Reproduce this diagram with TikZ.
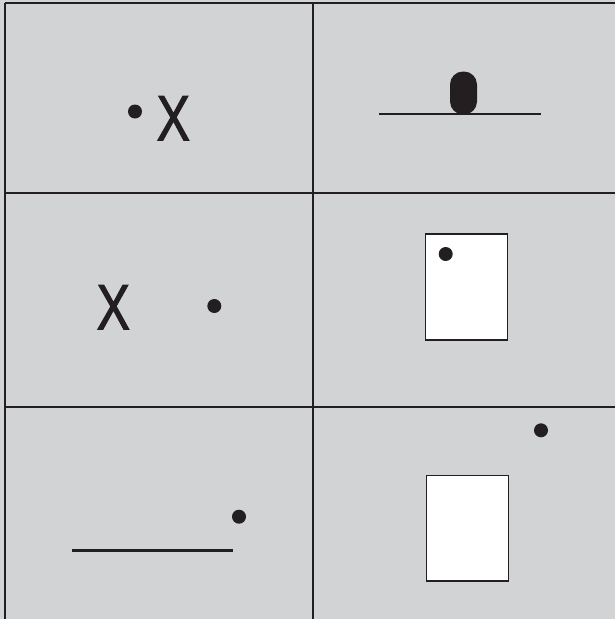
\documentclass[tikz,border=0pt]{standalone}
\usepackage{fontspec}
\setmainfont{Liberation Sans}
\newfontfamily\xfont[FakeBold=1.8]{Liberation Sans}
\definecolor{bg}{RGB}{210,211,213}
\definecolor{ink}{RGB}{35,31,32}
\begin{document}
\begin{tikzpicture}[x=1pt,y=-1pt,
  gridline/.style={draw=ink,line width=2pt},
  dotmark/.style={circle,fill=ink,inner sep=0pt,minimum size=14pt},
  xmark/.style={inner sep=0pt,text=ink,font=\xfont\fontsize{64}{64}\selectfont},
  paper/.style={draw=ink,fill=white,line width=1.3pt},
  bar/.style={draw=ink,line width=2.2pt}]
\fill[bg] (0,0) rectangle (615,619);
\useasboundingbox (0,0) rectangle (615,619);
% grid
\coordinate (tl) at (4.5,3);
\coordinate (tr) at (615,3);
\coordinate (bl) at (4.5,619);
\coordinate (vt) at (312.7,3);
\coordinate (vb) at (312.7,619);
\coordinate (h1l) at (4.5,193);
\coordinate (h1r) at (615,193);
\coordinate (h2l) at (4.5,407);
\coordinate (h2r) at (615,407);
\draw[gridline] (tl) -- (tr);
\draw[gridline] (tl) -- (bl);
\draw[gridline] (vt) -- (vb);
\draw[gridline] (h1l) -- (h1r);
\draw[gridline] (h2l) -- (h2r);
% cell 1
\node[dotmark] (d1) at (135,111.5) {};
\node[xmark] (x1) at (173.3,118.3) {\scalebox{0.78}[1]{X}};
% cell 2
\coordinate (l2a) at (379,114);
\coordinate (l2b) at (541,114);
\draw[bar] (l2a) -- (l2b);
\node[fill=ink,rounded corners=13pt,minimum width=27pt,minimum height=43pt,inner sep=0pt] (cap) at (463.5,93) {};
% cell 3
\node[xmark] (x3) at (113.3,307.3) {\scalebox{0.78}[1]{X}};
\node[dotmark] (d3) at (214.3,306) {};
% cell 4
\node[paper,minimum width=82pt,minimum height=106pt,inner sep=0pt] (p4) at (466.7,287) {};
\node[dotmark] (d4) at (445.7,254) {};
% cell 5
\coordinate (l5a) at (71.7,550.5);
\coordinate (l5b) at (232.7,550.5);
\draw[bar] (l5a) -- (l5b);
\node[dotmark] (d5) at (239,516.7) {};
% cell 6
\node[dotmark] (d6) at (541,430.3) {};
\node[paper,minimum width=81.6pt,minimum height=105.3pt,inner sep=0pt] (p6) at (467.5,528.3) {};
\end{tikzpicture}
\end{document}
